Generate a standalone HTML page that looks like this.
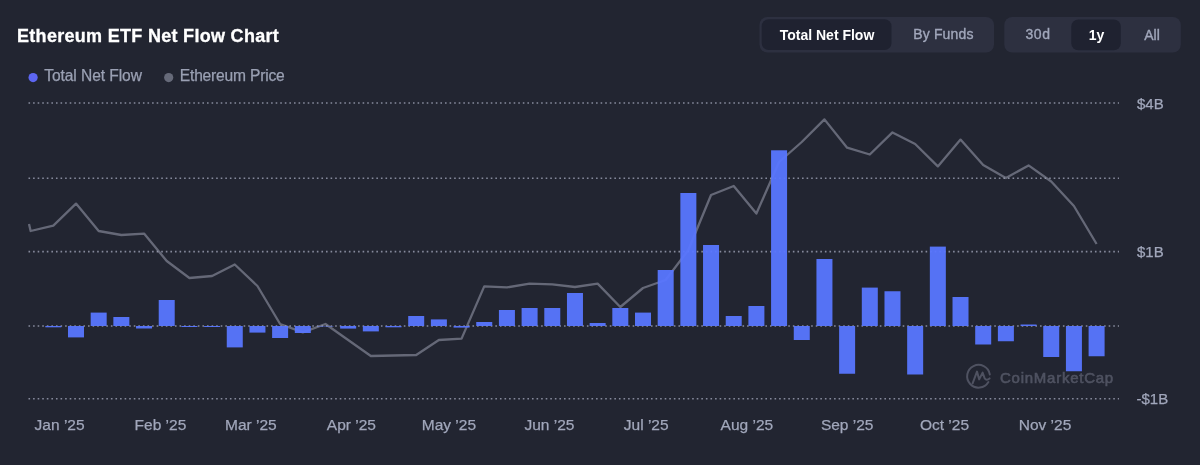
<!DOCTYPE html>
<html><head><meta charset="utf-8"><style>
html,body{margin:0;padding:0;background:#222531;width:1200px;height:465px;overflow:hidden}
svg{display:block;font-family:"Liberation Sans",Arial,sans-serif;will-change:transform}
</style></head><body>
<svg width="1200" height="465" viewBox="0 0 1200 465">
<rect width="1200" height="465" fill="#222531"/>
<text x="17" y="42" fill="#ffffff" stroke="#ffffff" stroke-width="0.3" font-size="18" font-weight="700" letter-spacing="0.3">Ethereum ETF Net Flow Chart</text>
<circle cx="33.1" cy="77.6" r="4.6" fill="#5d66f2"/>
<text x="44.2" y="81.3" fill="#9aa0b3" stroke="#9aa0b3" stroke-width="0.25" font-size="15.6" letter-spacing="-0.08">Total Net Flow</text>
<circle cx="168.7" cy="77.6" r="4.6" fill="#666a79"/>
<text x="179.8" y="81.2" fill="#9aa0b3" stroke="#9aa0b3" stroke-width="0.25" font-size="15.6" letter-spacing="-0.2">Ethereum Price</text>
<rect x="759.5" y="16.9" width="234.5" height="35.6" rx="8" fill="#2d3040"/>
<rect x="761.7" y="19.2" width="129.8" height="30.9" rx="7" fill="#1f2230"/>
<text x="827" y="39.6" text-anchor="middle" fill="#ffffff" font-size="14" font-weight="700">Total Net Flow</text>
<text x="943.4" y="39.2" text-anchor="middle" fill="#a1a7bb" stroke="#a1a7bb" stroke-width="0.35" font-size="14" letter-spacing="0.15">By Funds</text>
<rect x="1004.3" y="16.9" width="176.5" height="35.6" rx="8" fill="#2d3040"/>
<rect x="1071.3" y="19.4" width="49.5" height="30.9" rx="7" fill="#1f2230"/>
<text x="1038" y="39.4" text-anchor="middle" fill="#a1a7bb" stroke="#a1a7bb" stroke-width="0.35" font-size="14" letter-spacing="0.6">30d</text>
<text x="1096.5" y="39.6" text-anchor="middle" fill="#ffffff" font-size="14" font-weight="700">1y</text>
<text x="1152" y="39.6" text-anchor="middle" fill="#a1a7bb" stroke="#a1a7bb" stroke-width="0.35" font-size="14">All</text>
<g stroke="#868a9c" stroke-width="1.6" stroke-dasharray="1.6 2.977"><line x1="28.5" x2="1119" y1="103" y2="103"/><line x1="28.5" x2="1119" y1="178.2" y2="178.2"/><line x1="28.5" x2="1119" y1="251.6" y2="251.6"/><line x1="28.5" x2="1119" y1="326" y2="326"/><line x1="28.5" x2="1119" y1="398.7" y2="398.7"/></g>
<path d="M29.00,224.00 L30.64,231.00 L53.32,225.60 L76.00,203.60 L98.68,231.00 L121.36,235.00 L144.04,233.60 L166.72,261.00 L189.40,278.00 L212.08,276.00 L234.76,264.50 L257.44,286.00 L280.12,324.00 L302.80,332.40 L325.48,324.00 L348.16,340.00 L370.84,356.00 L393.52,355.50 L416.20,355.00 L438.88,340.00 L461.56,338.60 L484.24,286.40 L506.92,287.40 L529.60,283.60 L552.28,284.40 L574.96,287.00 L597.64,283.60 L620.32,307.00 L643.00,288.00 L665.68,280.00 L688.36,250.00 L711.04,195.00 L733.72,186.00 L756.40,213.50 L779.08,162.00 L801.76,142.00 L824.44,119.40 L847.12,147.70 L869.80,154.50 L892.48,132.40 L915.16,144.00 L937.84,166.40 L960.52,139.60 L983.20,165.00 L1005.88,178.00 L1028.56,165.40 L1051.24,181.50 L1073.92,206.00 L1096.60,244.00" fill="none" stroke="#a3a7b8" stroke-opacity="0.52" stroke-width="2.3" stroke-linejoin="round"/>
<g fill="#5876ff" fill-opacity="0.95"><rect x="45.32" y="326.00" width="16.0" height="1.30"/><rect x="68.00" y="326.00" width="16.0" height="11.40"/><rect x="90.68" y="312.60" width="16.0" height="13.40"/><rect x="113.36" y="317.00" width="16.0" height="9.00"/><rect x="136.04" y="326.00" width="16.0" height="2.50"/><rect x="158.72" y="300.00" width="16.0" height="26.00"/><rect x="181.40" y="326.00" width="16.0" height="1.00"/><rect x="204.08" y="326.00" width="16.0" height="1.00"/><rect x="226.76" y="326.00" width="16.0" height="21.40"/><rect x="249.44" y="326.00" width="16.0" height="6.60"/><rect x="272.12" y="326.00" width="16.0" height="12.00"/><rect x="294.80" y="326.00" width="16.0" height="7.00"/><rect x="317.48" y="326.00" width="16.0" height="0.40"/><rect x="340.16" y="326.00" width="16.0" height="2.60"/><rect x="362.84" y="326.00" width="16.0" height="5.40"/><rect x="385.52" y="326.00" width="16.0" height="1.30"/><rect x="408.20" y="316.00" width="16.0" height="10.00"/><rect x="430.88" y="319.40" width="16.0" height="6.60"/><rect x="453.56" y="326.00" width="16.0" height="1.60"/><rect x="476.24" y="322.00" width="16.0" height="4.00"/><rect x="498.92" y="310.00" width="16.0" height="16.00"/><rect x="521.60" y="308.00" width="16.0" height="18.00"/><rect x="544.28" y="308.00" width="16.0" height="18.00"/><rect x="566.96" y="293.00" width="16.0" height="33.00"/><rect x="589.64" y="323.00" width="16.0" height="3.00"/><rect x="612.32" y="308.00" width="16.0" height="18.00"/><rect x="635.00" y="312.60" width="16.0" height="13.40"/><rect x="657.68" y="270.00" width="16.0" height="56.00"/><rect x="680.36" y="193.00" width="16.0" height="133.00"/><rect x="703.04" y="245.00" width="16.0" height="81.00"/><rect x="725.72" y="316.00" width="16.0" height="10.00"/><rect x="748.40" y="306.00" width="16.0" height="20.00"/><rect x="771.08" y="150.30" width="16.0" height="175.70"/><rect x="793.76" y="326.00" width="16.0" height="14.00"/><rect x="816.44" y="259.00" width="16.0" height="67.00"/><rect x="839.12" y="326.00" width="16.0" height="47.75"/><rect x="861.80" y="287.60" width="16.0" height="38.40"/><rect x="884.48" y="291.25" width="16.0" height="34.75"/><rect x="907.16" y="326.00" width="16.0" height="48.50"/><rect x="929.84" y="246.60" width="16.0" height="79.40"/><rect x="952.52" y="297.00" width="16.0" height="29.00"/><rect x="975.20" y="326.00" width="16.0" height="18.50"/><rect x="997.88" y="326.00" width="16.0" height="15.25"/><rect x="1020.56" y="324.50" width="16.0" height="1.50"/><rect x="1043.24" y="326.00" width="16.0" height="31.00"/><rect x="1065.92" y="326.00" width="16.0" height="45.25"/><rect x="1088.60" y="326.00" width="16.0" height="30.25"/></g>
<g fill="#a1a7bb" stroke="#a1a7bb" stroke-width="0.25" font-size="15.5" text-anchor="middle"><text x="59.6" y="429.6">Jan ’25</text><text x="160.4" y="429.6">Feb ’25</text><text x="250.9" y="429.6">Mar ’25</text><text x="351.4" y="429.6">Apr ’25</text><text x="448.9" y="429.6">May ’25</text><text x="549.5" y="429.6">Jun ’25</text><text x="646.2" y="429.6">Jul ’25</text><text x="746.9" y="429.6">Aug ’25</text><text x="847.2" y="429.6">Sep ’25</text><text x="944.5" y="429.6">Oct ’25</text><text x="1045" y="429.6">Nov ’25</text></g>
<g fill="#a1a7bb" stroke="#a1a7bb" stroke-width="0.25" font-size="15">
<text x="1137" y="109">$4B</text><text x="1137" y="257">$1B</text><text x="1136.5" y="404.3">-$1B</text></g>
<g fill="#4b4e5d">
<path d="M988.4,382 A11.4,11.4 0 1 1 989.8,374.4" fill="none" stroke="#4f5261" stroke-width="2" stroke-linecap="round"/>
<path d="M972.6,383.4 L977,371.6 L979.2,379.4 L982.6,372.6 L984.6,378.2 Q986.5,381 989.6,378.4" fill="none" stroke="#4f5261" stroke-width="2" stroke-linecap="round" stroke-linejoin="round"/>
<text x="1000" y="382.6" font-size="15" fill="#4f5261" stroke="#4f5261" stroke-width="0.6" letter-spacing="0.75">CoinMarketCap</text></g>
</svg>
</body></html>
